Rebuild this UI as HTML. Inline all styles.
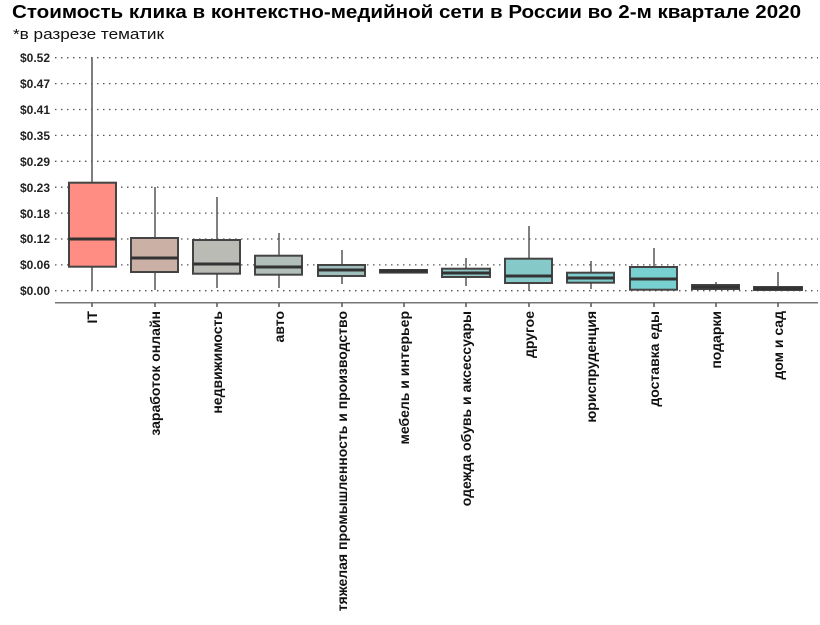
<!DOCTYPE html>
<html><head><meta charset="utf-8"><style>
body{margin:0;background:#fff;width:820px;height:625px;overflow:hidden}
svg{display:block}
</style></head><body>
<svg width="820" height="625" xmlns="http://www.w3.org/2000/svg" font-family="Liberation Sans, Noto Sans CJK SC, sans-serif">
<text x="12" y="18" font-size="18" font-weight="bold" fill="#000" textLength="789" lengthAdjust="spacingAndGlyphs">Стоимость клика в контекстно-медийной сети в России во 2-м квартале 2020</text>
<text x="13" y="39" font-size="15" fill="#111" textLength="151" lengthAdjust="spacingAndGlyphs">*в разрезе тематик</text>
<g stroke="#555" stroke-width="1.3" stroke-dasharray="1.5 4.5">
<line x1="55" x2="818" y1="57.7" y2="57.7"/><line x1="55" x2="818" y1="83.6" y2="83.6"/>
<line x1="55" x2="818" y1="109.5" y2="109.5"/><line x1="55" x2="818" y1="135.4" y2="135.4"/>
<line x1="55" x2="818" y1="161.3" y2="161.3"/><line x1="55" x2="818" y1="187.2" y2="187.2"/>
<line x1="55" x2="818" y1="213.1" y2="213.1"/><line x1="55" x2="818" y1="239" y2="239"/>
<line x1="55" x2="818" y1="264.9" y2="264.9"/><line x1="55" x2="818" y1="290.7" y2="290.7"/>
</g>
<g font-size="12" font-weight="bold" text-anchor="end" fill="#222">
<text x="50" y="62">$0.52</text><text x="50" y="88">$0.47</text><text x="50" y="114">$0.41</text>
<text x="50" y="140">$0.35</text><text x="50" y="166">$0.29</text><text x="50" y="192">$0.23</text>
<text x="50" y="218">$0.18</text><text x="50" y="243">$0.12</text><text x="50" y="269">$0.06</text>
<text x="50" y="295">$0.00</text>
</g>
<line x1="55" x2="818" y1="302.7" y2="302.7" stroke="#777" stroke-width="1.5"/>
<g stroke="#555" stroke-width="1.5">
<line x1="92" x2="92" y1="57.7" y2="290"/><line x1="155" x2="155" y1="187" y2="290"/>
<line x1="217" x2="217" y1="197" y2="288"/><line x1="279" x2="279" y1="233" y2="288"/>
<line x1="342" x2="342" y1="250" y2="284"/><line x1="404" x2="404" y1="269" y2="273"/>
<line x1="466" x2="466" y1="258" y2="286"/><line x1="529" x2="529" y1="226" y2="291"/>
<line x1="591" x2="591" y1="261" y2="289"/><line x1="654" x2="654" y1="248" y2="290"/>
<line x1="716" x2="716" y1="282" y2="289"/><line x1="778" x2="778" y1="272" y2="290"/>
</g>
<g stroke="#444" stroke-width="2">
<rect x="69" y="182.7" width="47" height="84" fill="#ff8d83"/>
<rect x="131" y="238" width="47" height="34" fill="#cbb0a6"/>
<rect x="193" y="240" width="47" height="33.7" fill="#b9bbb4"/>
<rect x="255" y="255.7" width="47" height="19" fill="#b1beba"/>
<rect x="318" y="265" width="47" height="11" fill="#9fbfbc"/>
<rect x="380" y="270" width="47" height="2.6" fill="#96c2c0"/>
<rect x="442" y="268.7" width="48" height="8.3" fill="#8fc6c6"/>
<rect x="505" y="258.7" width="47" height="24.3" fill="#86c9c9"/>
<rect x="567" y="272.7" width="47" height="10" fill="#7fcccc"/>
<rect x="630" y="267" width="47" height="22.7" fill="#79d0d0"/>
<rect x="692" y="285" width="47" height="4" fill="#74d2d2"/>
<rect x="754" y="287" width="48" height="3" fill="#70d4d4"/>
</g>
<g stroke="#333" stroke-width="3">
<line x1="69" x2="116" y1="239" y2="239"/><line x1="131" x2="178" y1="258" y2="258"/>
<line x1="193" x2="240" y1="264" y2="264"/><line x1="255" x2="302" y1="267" y2="267"/>
<line x1="318" x2="365" y1="270" y2="270"/><line x1="380" x2="427" y1="271" y2="271"/>
<line x1="442" x2="490" y1="273" y2="273"/><line x1="505" x2="552" y1="276" y2="276"/>
<line x1="567" x2="614" y1="278" y2="278"/><line x1="630" x2="677" y1="279" y2="279"/>
<line x1="692" x2="739" y1="287" y2="287"/><line x1="754" x2="802" y1="288.5" y2="288.5"/>
</g>
<g stroke="#555" stroke-width="1.5">
<line x1="92" x2="92" y1="303" y2="307"/><line x1="155" x2="155" y1="303" y2="307"/>
<line x1="217" x2="217" y1="303" y2="307"/><line x1="279" x2="279" y1="303" y2="307"/>
<line x1="342" x2="342" y1="303" y2="307"/><line x1="404" x2="404" y1="303" y2="307"/>
<line x1="466" x2="466" y1="303" y2="307"/><line x1="529" x2="529" y1="303" y2="307"/>
<line x1="591" x2="591" y1="303" y2="307"/><line x1="654" x2="654" y1="303" y2="307"/>
<line x1="716" x2="716" y1="303" y2="307"/><line x1="778" x2="778" y1="303" y2="307"/>
</g>
<g font-size="14" font-weight="bold" text-anchor="end" fill="#111">
<text transform="translate(97,311) rotate(-90)">IT</text>
<text transform="translate(160,311) rotate(-90)">заработок онлайн</text>
<text transform="translate(222,311) rotate(-90)">недвижимость</text>
<text transform="translate(284,311) rotate(-90)">авто</text>
<text transform="translate(347,311) rotate(-90)">тяжелая промышленность и производство</text>
<text transform="translate(409,311) rotate(-90)">мебель и интерьер</text>
<text transform="translate(471,311) rotate(-90)">одежда обувь и аксессуары</text>
<text transform="translate(534,311) rotate(-90)">другое</text>
<text transform="translate(596,311) rotate(-90)">юриспруденция</text>
<text transform="translate(659,311) rotate(-90)">доставка еды</text>
<text transform="translate(721,311) rotate(-90)">подарки</text>
<text transform="translate(783,311) rotate(-90)">дом и сад</text>
</g>
</svg>
</body></html>
